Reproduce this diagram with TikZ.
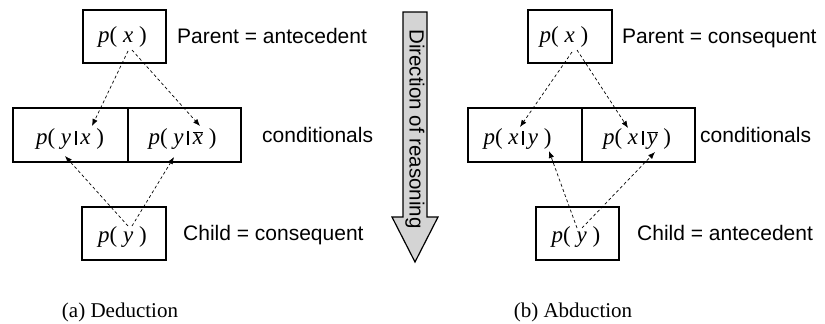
\documentclass[tikz,border=0pt]{standalone}
\usepackage{fontspec}
\setmainfont{Liberation Serif}
\setsansfont{Liberation Sans}
\usetikzlibrary{arrows.meta}
\newcommand\vi[1]{\textit{#1}}
\newcommand\vb{\hspace{3.5pt}\rule[-0.5pt]{2.2pt}{13.5pt}\hspace{3.5pt}}
\newcommand\ovl[1]{\ensuremath{\overline{\mbox{\textit{#1}}}}}
\begin{document}
\begin{tikzpicture}[x=1pt,y=-1pt,
  box/.style={draw,line width=1.3pt},
  mth/.style={font=\fontsize{23}{27}\selectfont,anchor=base,inner sep=0pt},
  lab/.style={font=\sffamily\fontsize{21}{24}\selectfont,anchor=base west,inner sep=0pt},
  captext/.style={font=\fontsize{21}{25}\selectfont,anchor=base,inner sep=0pt},
  darr/.style={line width=0.7pt,dash pattern=on 3pt off 2.5pt,-{Latex[length=7pt,width=5.5pt]}}]
\useasboundingbox (0,0) rectangle (825,324);
% ---------- (a) Deduction ----------
\draw[box] (83,10) rectangle (166,63);
\draw[box] (13,108) rectangle (241,162);
\draw[box] (128,108) -- (128,162);
\draw[box] (82,207) rectangle (166,260);
\node[mth] (ax) at (122.5,42) {\vi{p}( \vi{x} )};
\node[mth] (ayx) at (70,144) {\vi{p}( \vi{y}\vb\vi{x} )};
\node[mth] (ayxb) at (182.5,144) {\vi{p}( \vi{y}\vb\ovl{x} )};
\node[mth] (ay) at (122.5,242) {\vi{p}( \vi{y} )};
\node[lab] (alp) at (177,43) {Parent = antecedent};
\node[lab] (alc) at (262,142) {conditionals};
\node[lab] (alch) at (183,240) {Child = consequent};
\node[captext] (acap) at (120,317) {(a) Deduction};
\coordinate (a1s) at (128,51);
\coordinate (a1e) at (92,126);
\coordinate (a2s) at (132,50);
\coordinate (a2e) at (200,126);
\coordinate (a3s) at (128,226);
\coordinate (a3e) at (65,156);
\coordinate (a4s) at (132,226);
\coordinate (a4e) at (174,157);
\draw[darr] (a1s) -- (a1e);
\draw[darr] (a2s) -- (a2e);
\draw[darr] (a3s) -- (a3e);
\draw[darr] (a4s) -- (a4e);
% ---------- direction arrow ----------
\draw[line width=1.2pt,fill=black!17,line join=miter]
  (403,12) -- (427,12) -- (427,217) -- (438,217) -- (415,262) -- (392,217) -- (403,217) -- cycle;
\node[font=\sffamily\fontsize{20.5}{24}\selectfont,rotate=-90,inner sep=0pt] (dir) at (415,129) {Direction of reasoning};
% ---------- (b) Abduction ----------
\draw[box] (528,10) rectangle (612,63);
\draw[box] (468,108) rectangle (695,162);
\draw[box] (582,108) -- (582,162);
\draw[box] (536,207) rectangle (619,260);
\node[mth] (bx) at (564,42) {\vi{p}( \vi{x} )};
\node[mth] (bxy) at (517.5,144) {\vi{p}( \vi{x}\vb\vi{y} )};
\node[mth] (bxyb) at (637,144) {\vi{p}( \vi{x}\vb\ovl{y} )};
\node[mth] (by) at (576,242) {\vi{p}( \vi{y} )};
\node[lab] (blp) at (622,43) {Parent = consequent};
\node[lab] (blc) at (700,142) {conditionals};
\node[lab] (blch) at (637,240) {Child = antecedent};
\node[captext] (bcap) at (573,317) {(b) Abduction};
\coordinate (b1s) at (572,52);
\coordinate (b1e) at (520,127);
\coordinate (b2s) at (577,50);
\coordinate (b2e) at (628,128);
\coordinate (b3s) at (577,228);
\coordinate (b3e) at (549,151);
\coordinate (b4s) at (582,228);
\coordinate (b4e) at (655,152);
\draw[darr] (b1s) -- (b1e);
\draw[darr] (b2s) -- (b2e);
\draw[darr] (b3s) -- (b3e);
\draw[darr] (b4s) -- (b4e);
\end{tikzpicture}
\end{document}
